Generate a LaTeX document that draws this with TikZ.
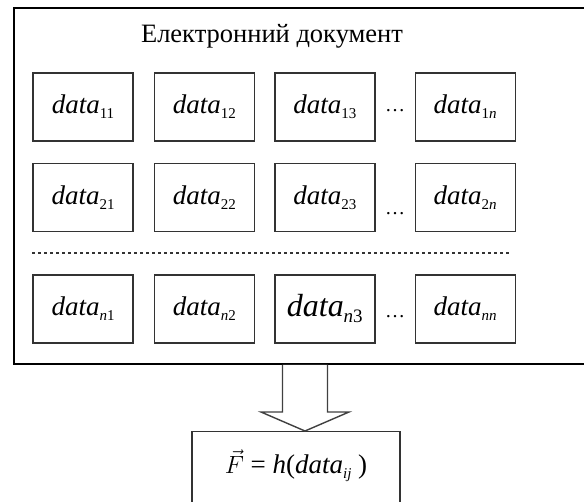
\documentclass[tikz,border=0pt]{standalone}
\usepackage{fontspec}
\setmainfont{Liberation Serif}
\usetikzlibrary{positioning,calc}
\newcommand{\dat}[2][15]{\textit{data}\raisebox{-0.4ex}{\fontsize{#1}{#1}\selectfont #2}}
\tikzset{
  docbox/.style ={draw=black, line width=1.8pt, inner sep=0pt},
  datbox/.style ={draw=black!80, line width=1.4pt, minimum width=100pt, minimum height=68pt,
                  inner sep=0pt, font=\fontsize{27}{29}\selectfont},
  resbox/.style ={draw=black!80, line width=1.4pt, minimum width=208pt, inner ysep=0pt,
                  font=\fontsize{27}{29}\selectfont},
  dotln/.style  ={draw=black!80, line width=1.3pt, dash pattern=on 2.5pt off 3.5pt},
  blkar/.style  ={draw=black!75, line width=1.4pt, fill=white},
  dts/.style    ={font=\fontsize{20}{22}\selectfont, inner sep=0pt},
}
\begin{document}
\begin{tikzpicture}[x=1pt,y=-1pt,node distance=20pt and 20pt]
\useasboundingbox (0,0) rectangle (584,501);
\clip (0,0) rectangle (584,501);

\node[docbox,minimum width=600pt,minimum height=356pt,anchor=north west] (doc) at (13,7) {};
\node[font=\fontsize{26.5}{28}\selectfont] (title) at (272,36) {Електронний документ};

% row 1
\node[datbox] (d11) at (83,107) {\dat{11}};
\node[datbox,right=of d11] (d12) {\dat{12}};
\node[datbox,right=19pt of d12] (d13) {\dat{13}};
\node[datbox,right=39pt of d13] (d14) {\dat{1\textit{n}}};
% row 2
\node[datbox,below=21pt of d11] (d21) {\dat{21}};
\node[datbox,right=of d21] (d22) {\dat{22}};
\node[datbox,right=19pt of d22] (d23) {\dat{23}};
\node[datbox,right=39pt of d23] (d24) {\dat{2\textit{n}}};
% row n
\node[datbox,below=42pt of d21] (d31) {\dat{\textit{n}1}};
\node[datbox,right=of d31] (d32) {\dat{\textit{n}2}};
\node[datbox,right=19pt of d32,font=\fontsize{32}{34}\selectfont] (d33) {\dat[19]{\textit{n}3}};
\node[datbox,right=39pt of d33] (d34) {\dat{\textit{nn}}};

\node[dts] (dots1) at ($($(d13.east)!.5!(d14.west)$)+(0,4)$) {\dots};
\node[dts] (dots2) at ($($(d23.east)!.5!(d24.west)$)+(0,16)$) {\dots};
\node[dts] (dots3) at ($($(d33.east)!.5!(d34.west)$)+(0,8)$) {\dots};

\coordinate (gapl) at ($(d21.south west)!.5!(d31.north west)$);
\coordinate (gapr) at ($(gapl-|d34.east)+(-7,0)$);
\draw[dotln] (gapl) -- (gapr);

% result
\node[resbox,anchor=north,text height=42pt,text depth=40pt] (res) at (296,431)
  {$\vec{F}$ = \textit{h}(\dat{\textit{ij}} )};

\coordinate (tip) at ($(res.north)+(9,0)$);
\draw[blkar] ($(tip|-doc.south)+(-22.5,0)$) -- ($(tip)+(-22.5,-19)$) -- ($(tip)+(-44,-19)$)
  -- (tip) -- ($(tip)+(44,-19)$) -- ($(tip)+(22.5,-19)$) -- ($(tip|-doc.south)+(22.5,0)$);
\end{tikzpicture}
\end{document}
